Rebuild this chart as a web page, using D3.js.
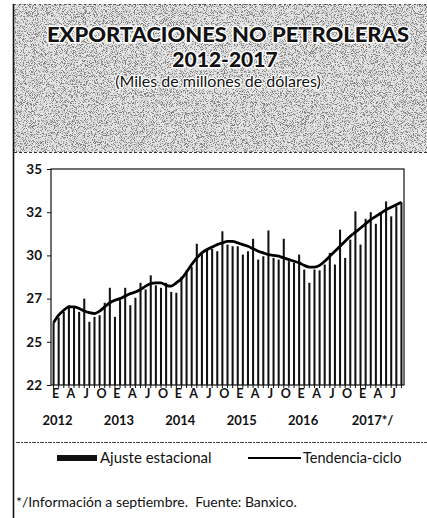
<!DOCTYPE html>
<html><head><meta charset="utf-8">
<script src="https://cdn.jsdelivr.net/npm/d3@7"></script>
<style>
html,body{margin:0;padding:0;background:#fff;}
svg{display:block;}
</style></head>
<body>
<svg id="chart" width="427" height="518"></svg>
<script>
// ---- data ----
const years = ["2012","2013","2014","2015","2016","2017"];
const monthLetters = ["E","F","M","A","M","J","J","A","S","O","N","D"];
const quarterLabels = ["E","A","J","O","E","A","J","O","E","A","J","O","E","A","J","O","E","A","J","O","E","A","J"];
const yearLabels = ["2012","2013","2014","2015","2016","2017*/"];
const yTicks = [22, 24.6, 27.2, 29.8, 32.4, 35];
// seasonally adjusted (Ajuste estacional), Jan 2012 - Sep 2017
const ajuste = [25.75,26.05,26.4,26.8,26.7,26.4,27.2,25.8,26.1,26.2,26.95,27.85,
  26.1,27.1,27.85,26.8,27.25,28.15,27.75,28.6,28.0,27.85,28.15,27.6,
  27.55,28.5,28.9,29.1,30.5,29.9,30.1,30.2,30.05,31.25,30.45,30.35,
  30.35,29.85,30.05,30.8,29.55,29.75,31.3,29.65,29.55,30.8,29.45,29.35,
  29.85,28.95,28.15,28.95,28.9,29.25,29.95,29.25,31.35,29.65,30.75,32.45,
  30.45,32.0,32.4,31.7,32.3,33.05,32.15,32.75,33.0];
// trend-cycle (Tendencia-ciclo)
const tendencia = [25.75,26.2,26.5,26.7,26.7,26.6,26.45,26.35,26.3,26.45,26.7,26.95,
  27.1,27.2,27.35,27.5,27.6,27.75,27.95,28.1,28.15,28.15,28.0,27.95,
  28.15,28.4,28.8,29.25,29.65,29.95,30.15,30.3,30.45,30.55,30.65,30.65,
  30.55,30.45,30.35,30.2,30.05,29.95,29.85,29.8,29.75,29.65,29.55,29.45,
  29.35,29.2,29.1,29.1,29.2,29.45,29.75,30.05,30.35,30.65,30.95,31.2,
  31.45,31.7,31.95,32.15,32.35,32.55,32.7,32.85,33.0];
const months = [];
years.forEach(y => monthLetters.forEach((m,i) => months.push(y + "-" + (i+1))));
months.length = ajuste.length;

// ---- layout ----
const svg = d3.select("#chart");
const W = 427, H = 518;
const plot = {left:51, right:404, top:169, bottom:385};

const defs = svg.append("defs");
const f = defs.append("filter").attr("id","noise").attr("x",0).attr("y",0).attr("width","100%").attr("height","100%");
f.append("feTurbulence").attr("type","fractalNoise").attr("baseFrequency","1.1").attr("numOctaves",2).attr("seed",7).attr("result","t");
f.append("feColorMatrix").attr("in","t").attr("type","matrix")
  .attr("values","0 0 0 0 0.2  0 0 0 0 0.2  0 0 0 0 0.2  6 0 0 0 -2.95");

// header texture
svg.append("rect").attr("x",14).attr("y",4).attr("width",W-14).attr("height",148).attr("fill","#e6e6e6");
svg.append("rect").attr("x",14).attr("y",4).attr("width",W-14).attr("height",148).attr("filter","url(#noise)");
svg.append("line").attr("x1",14).attr("x2",W).attr("y1",152.5).attr("y2",152.5)
  .attr("stroke","#333").attr("stroke-width",1).attr("stroke-dasharray","3,2");
svg.append("line").attr("x1",14).attr("x2",W).attr("y1",4.5).attr("y2",4.5)
  .attr("stroke","#555").attr("stroke-width",1).attr("stroke-dasharray","2,3");
// left border
svg.append("line").attr("x1",13.5).attr("x2",13.5).attr("y1",4).attr("y2",H)
  .attr("stroke","#111").attr("stroke-width",1.6);

// titles
const tt = svg.append("g").attr("font-family","Lato, 'Open Sans', sans-serif").attr("text-anchor","middle")
  .attr("paint-order","stroke").attr("stroke","#fff").attr("stroke-linejoin","round");
tt.append("text").attr("x",228).attr("y",42).attr("font-size",21).attr("font-weight",900)
  .attr("stroke-width",3).attr("fill","#111").attr("textLength",362).attr("lengthAdjust","spacingAndGlyphs")
  .text("EXPORTACIONES NO PETROLERAS");
tt.append("text").attr("x",225).attr("y",67).attr("font-size",21).attr("font-weight",900)
  .attr("stroke-width",3).attr("fill","#111").text("2012-2017");
tt.append("text").attr("x",218).attr("y",87).attr("font-size",16).attr("font-weight",400)
  .attr("stroke-width",2.5).attr("fill","#111").text("(Miles de millones de dólares)");

// scales
const x = d3.scaleBand().domain(months).range([plot.left, plot.right]).paddingInner(0.6).paddingOuter(0.3);
const y = d3.scaleLinear().domain([22,35]).range([plot.bottom, plot.top]);

// bars
svg.append("g").selectAll("rect").data(ajuste).join("rect")
  .attr("x",(d,i)=>x(months[i]))
  .attr("width",x.bandwidth())
  .attr("y",d=>y(d))
  .attr("height",d=>y(22)-y(d))
  .attr("fill","#111");

// frame
svg.append("rect").attr("x",plot.left).attr("y",plot.top).attr("width",plot.right-plot.left).attr("height",plot.bottom-plot.top)
  .attr("fill","none").attr("stroke","#111").attr("stroke-width",1.2);

// trend line
const line = d3.line().x((d,i)=>x(months[i])+x.bandwidth()/2).y(d=>y(d)).curve(d3.curveMonotoneX);
svg.append("path").datum(tendencia).attr("d",line).attr("fill","none").attr("stroke","#000").attr("stroke-width",2.8);

// y axis
const yAxis = d3.axisLeft(y).tickValues(yTicks).tickFormat(d3.format(".0f")).tickSize(4).tickPadding(5);
const ya = svg.append("g").attr("transform",`translate(${plot.left},0)`).call(yAxis);
ya.select(".domain").remove();
ya.selectAll("text").attr("font-family","Lato, sans-serif").attr("font-size",13.5).attr("font-weight",700).attr("fill","#111");
ya.selectAll("line").attr("stroke","#111");

// x axis month ticks
const xAxis = d3.axisBottom(x).tickSize(3).tickFormat("");
const xa = svg.append("g").attr("transform",`translate(0,${plot.bottom})`).call(xAxis);
xa.select(".domain").remove();
xa.selectAll("line").attr("stroke","#111").attr("stroke-width",1);

// quarter labels
const lab = svg.append("g").attr("font-family","Lato, sans-serif").attr("fill","#111").attr("text-anchor","middle");
lab.selectAll("text.q").data(quarterLabels).join("text").attr("class","q")
  .attr("x",(d,i)=>x(months[i*3])+x.bandwidth()/2 + 2)
  .attr("y",398).attr("font-size",12.5).attr("font-weight",700).text(d=>d);
lab.selectAll("text.yr").data(yearLabels).join("text").attr("class","yr")
  .attr("x",(d,i)=>x(months[i*12])+x.bandwidth()/2 + (i===5?12:4))
  .attr("y",425).attr("font-size",13).attr("font-weight",700).text(d=>d);

// separator
svg.append("line").attr("x1",16).attr("x2",W).attr("y1",442.5).attr("y2",442.5)
  .attr("stroke","#444").attr("stroke-width",1).attr("stroke-dasharray","4,1,2,1");

// legend
svg.append("rect").attr("x",57).attr("y",455).attr("width",40).attr("height",6).attr("fill","#111");
svg.append("text").attr("x",100).attr("y",463).attr("font-family","Lato, sans-serif").attr("font-size",15)
  .attr("fill","#111").text("Ajuste estacional");
svg.append("line").attr("x1",248).attr("x2",301).attr("y1",458).attr("y2",458).attr("stroke","#000").attr("stroke-width",2);
svg.append("text").attr("x",303).attr("y",463).attr("font-family","Lato, sans-serif").attr("font-size",14.5)
  .attr("fill","#111").text("Tendencia-ciclo");

// footnote
svg.append("text").attr("x",16).attr("y",507).attr("font-family","Lato, sans-serif").attr("font-size",14)
  .attr("fill","#111").attr("xml:space","preserve").text("*/Información a septiembre.  Fuente: Banxico.");
</script>
</body></html>
